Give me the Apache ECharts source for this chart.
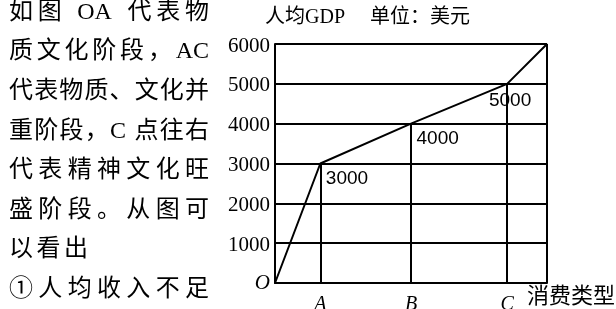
<!DOCTYPE html>
<html lang="zh">
<head>
<meta charset="UTF-8">
<title>人均GDP与消费类型</title>
<script src="https://cdn.jsdelivr.net/npm/echarts@6/dist/echarts.min.js"></script>
<style>
* { margin: 0; padding: 0; }
body { background: #fff; }
#chart { width: 616px; height: 309px; }
</style>
</head>
<body>
<div id="chart"></div>
<script>
// 消费阶段（横轴）与人均GDP（纵轴）
var stageNames = ['O', 'A', 'B', 'C', ''];
var stageX = [0, 1, 3, 5.12, 6];
var gdpValues = [0, 3000, 4000, 5000, 6000];
var yTicks = [0, 1000, 2000, 3000, 4000, 5000, 6000];
var labelledPoints = [1, 2, 3];

// 左侧文字
var paraLines = ['如图 OA 代表物', '质文化阶段，AC', '代表物质、文化并', '重阶段，C 点往右',
                 '代表精神文化旺', '盛阶段。从图可', '以看出', '①人均收入不足'];
var paraJustify = [true, true, true, true, true, true, false, true];

var serif = "'Liberation Serif', 'Noto Sans CJK SC'";
var paraFont = "24px " + serif;

// 两端对齐：把多出的宽度平均分到字符之间
var ctx = document.createElement('canvas').getContext('2d');
ctx.font = paraFont;
var paraEls = [];
paraLines.forEach(function (line, li) {
    var tokens = line.match(/[A-Za-z0-9]+|./g);
    var widths = tokens.map(function (t) { return ctx.measureText(t).width; });
    var total = widths.reduce(function (a, b) { return a + b; }, 0);
    var gap = paraJustify[li] ? (200 - total) / (tokens.length - 1) : 3.5;
    var x = 9;
    tokens.forEach(function (t, i) {
        if (t !== ' ') {
            paraEls.push({
                type: 'text', x: x, y: 12.5 + li * 39.6, silent: true,
                style: { text: t, font: paraFont, fill: '#000', textVerticalAlign: 'middle' }
            });
        }
        x += widths[i] + gap;
    });
});

var lineData = stageX.map(function (x, i) {
    var item = { value: [x, gdpValues[i]] };
    if (labelledPoints.indexOf(i) >= 0) {
        var last = i === labelledPoints[labelledPoints.length - 1];
        item.label = {
            show: true,
            position: last ? 'bottom' : 'right',
            offset: last ? [3, 2] : [0, 15],
            formatter: String(gdpValues[i])
        };
    }
    return item;
});

// 从各点垂直落到横轴的线
var dropLines = [];
for (var i = 1; i < stageX.length; i++) {
    dropLines.push([{ coord: [stageX[i], 0] }, { coord: [stageX[i], gdpValues[i]] }]);
}

var myChart = echarts.init(document.getElementById('chart'));
var option = {
    animation: false,
    backgroundColor: '#fff',
    grid: { left: 275, top: 44, width: 272, height: 239, outerBoundsMode: 'none', containLabel: false },
    xAxis: {
        type: 'value',
        min: stageX[0],
        max: stageX[stageX.length - 1],
        axisLine: { show: true, lineStyle: { color: '#000', width: 2 } },
        axisTick: { show: false },
        splitLine: { show: false },
        axisLabel: {
            customValues: stageX.slice(1, 4),
            margin: 12,
            formatter: function (v) { return '{i|' + stageNames[stageX.indexOf(v)] + '}'; },
            rich: { i: { fontFamily: serif, fontStyle: 'italic', fontSize: 20, color: '#000' } }
        }
    },
    yAxis: {
        type: 'value',
        min: yTicks[0],
        max: yTicks[yTicks.length - 1],
        interval: 1000,
        axisLine: { show: true, lineStyle: { color: '#000', width: 2 } },
        axisTick: { show: false },
        splitLine: { show: true, lineStyle: { color: '#000', width: 2 } },
        axisLabel: {
            margin: 5,
            color: '#000',
            formatter: function (v) { return v === 0 ? '{o|O}' : '{n|' + v + '}'; },
            rich: {
                n: { fontFamily: serif, fontSize: 21, color: '#000', padding: [4, 0, 0, 0] },
                o: { fontFamily: serif, fontStyle: 'italic', fontSize: 21, color: '#000' }
            }
        }
    },
    series: [{
        type: 'line',
        data: lineData,
        symbol: 'circle',
        symbolSize: 1,
        showSymbol: true,
        itemStyle: { color: '#000' },
        lineStyle: { color: '#000', width: 2 },
        label: { color: '#000', fontFamily: "'Liberation Sans', sans-serif", fontSize: 19 },
        markLine: {
            silent: true,
            symbol: ['none', 'none'],
            label: { show: false },
            lineStyle: { color: '#000', width: 2, type: 'solid' },
            data: dropLines
        }
    }],
    graphic: paraEls.concat([
        {
            type: 'text', x: 265, y: 18, silent: true,
            style: { text: '人均GDP     单位：美元', font: '20px ' + serif, fill: '#000', textVerticalAlign: 'middle' }
        },
        {
            type: 'text', x: 527, y: 297, silent: true,
            style: { text: '消费类型', font: '22px ' + serif, fill: '#000', textVerticalAlign: 'middle' }
        }
    ])
};
myChart.setOption(option);
</script>
</body>
</html>
